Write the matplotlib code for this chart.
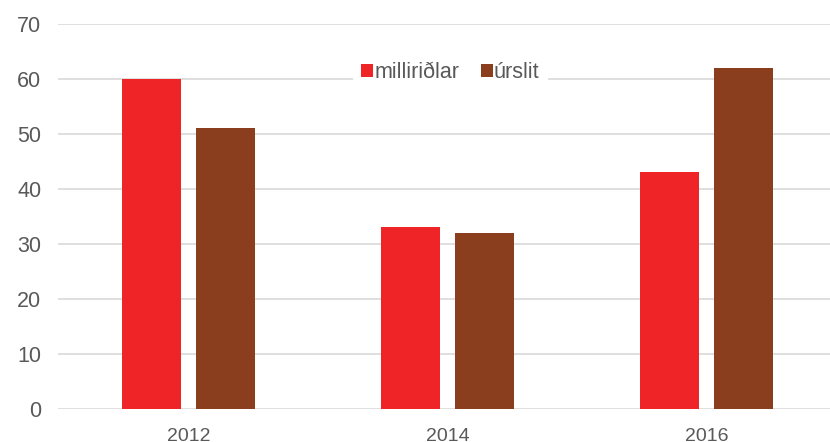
import numpy as np
import matplotlib
matplotlib.use("Agg")
import matplotlib.pyplot as plt

plt.rcParams['font.family'] = ['Liberation Sans', 'DejaVu Sans']

years = ['2012', '2014', '2016']
milliridlar = [60, 33, 43]
urslit = [51, 32, 62]

fig = plt.figure(figsize=(8.3, 4.42), dpi=100)
ax = fig.add_axes([0.07, 0.0747, 0.93, 0.871])

x = np.arange(len(years))
w = 0.228
off = 0.143
ax.bar(x - off, milliridlar, w, color='#EE2427', label='milliriðlar', zorder=3)
ax.bar(x + off, urslit, w, color='#8B3E1E', label='úrslit', zorder=3)

ax.set_xlim(-0.503, 2.475)
ax.set_ylim(0, 70)
ax.set_yticks(range(0, 71, 10))
ax.set_xticks(x)
ax.set_xticklabels(years)
ax.grid(axis='y', color='#D9D9D9', linewidth=1.2, zorder=0)
for s in ax.spines.values():
    s.set_visible(False)
ax.tick_params(axis='y', length=0, pad=12, labelsize=15.5, labelcolor='#595959')
ax.tick_params(axis='x', length=0, pad=13.5, labelsize=14, labelcolor='#595959')

leg = ax.legend(loc='center', bbox_to_anchor=(0.508, 0.873), ncol=2, frameon=True,
                fontsize=15.5, handlelength=0.55, handleheight=0.55, handletextpad=0.05,
                columnspacing=1.0, borderpad=0.4, borderaxespad=0)
leg.get_frame().set_edgecolor('none')
leg.get_frame().set_facecolor('white')
leg.get_frame().set_alpha(1)
for t in leg.get_texts():
    t.set_color('#595959')

fig.savefig('out.png', dpi=100)
